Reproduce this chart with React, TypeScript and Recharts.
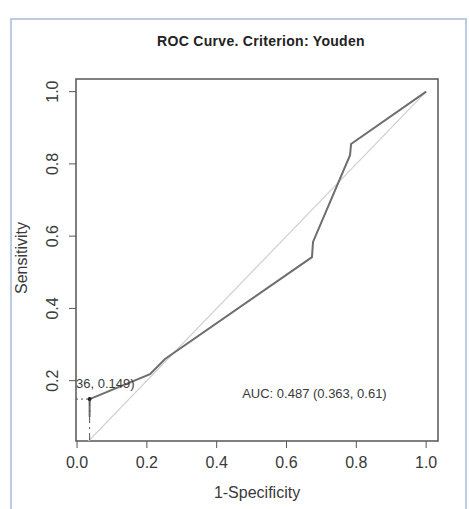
import React from 'react';
import {
  LineChart,
  Line,
  XAxis,
  YAxis,
  ReferenceArea,
  ReferenceLine,
  ReferenceDot,
  Customized
} from 'recharts';

// ROC curve points (1 - specificity, sensitivity)
const fpr = [0.036, 0.036, 0.209, 0.252, 0.673, 0.676, 0.782, 0.785, 1.0];
const tpr = [0.1, 0.149, 0.218, 0.26, 0.542, 0.584, 0.824, 0.855, 1.0];

// chance diagonal
const diagX = [0, 1];
const diagY = [0, 1];

// Youden threshold point
const threshX = [0.036];
const threshY = [0.149];

const xTicks = [0, 0.2, 0.4, 0.6, 0.8, 1.0];
const yTicks = [0.2, 0.4, 0.6, 0.8, 1.0];

const XDOM: [number, number] = [-0.003, 1.034];
const YDOM: [number, number] = [0.033, 1.035];

const curveData = fpr.map((x, i) => ({ fpr: x, tpr: tpr[i] }));
const diagData = diagX.map((x, i) => ({ fpr: x, tpr: diagY[i] }));

const FONT = '"Liberation Sans", Arial, Helvetica, sans-serif';
const INK = '#3a3a3a';

const YTick = (props: any) => {
  const { x, y, payload } = props;
  return (
    <text
      x={x}
      y={y}
      transform={`rotate(-90, ${x}, ${y})`}
      textAnchor="middle"
      fontSize={16}
      fill={INK}
      fontFamily={FONT}
    >
      {Number(payload.value).toFixed(1)}
    </text>
  );
};

const Titles = () => (
  <g fontFamily={FONT}>
    <defs>
      <clipPath id="plotClip">
        <rect x={76} y={79} width={362} height={362} />
      </clipPath>
    </defs>
    <text x={261} y={46} textAnchor="middle" fontSize={14} fontWeight="bold" letterSpacing={0.3} fill="#222">
      ROC Curve. Criterion: Youden
    </text>
    <text x={257} y={498} textAnchor="middle" fontSize={16} fill={INK}>
      1-Specificity
    </text>
    <text x={27} y={258} transform="rotate(-90, 27, 258)" textAnchor="middle" fontSize={16} fill={INK}>
      Sensitivity
    </text>
  </g>
);

const ThreshLabel = (props: any) => {
  const vb = props.viewBox || {};
  const cx = vb.x + (vb.width || 0) / 2;
  const cy = vb.y + (vb.height || 0) / 2;
  return (
    <g clipPath="url(#plotClip)">
      <text x={cx + 45} y={cy - 11} textAnchor="end" fontSize={13} fill={INK} fontFamily={FONT}>
        ({threshX[0].toFixed(3)}, {threshY[0].toFixed(3)})
      </text>
    </g>
  );
};

const AucLabel = (props: any) => {
  const vb = props.viewBox || {};
  const cx = vb.x + (vb.width || 0) / 2;
  const cy = vb.y + (vb.height || 0) / 2;
  return (
    <text x={cx} y={cy + 4.6} textAnchor="middle" fontSize={13} fill={INK} fontFamily={FONT}>
      AUC: 0.487 (0.363, 0.61)
    </text>
  );
};

export default function App() {
  return (
    <div style={{ position: 'absolute', left: 0, top: 0, width: 469, height: 509, overflow: 'hidden', background: '#fff' }}>
      <div
        style={{
          position: 'absolute',
          left: 10,
          top: 18,
          width: 457,
          height: 520,
          border: '2px solid #bccbe1',
          boxSizing: 'border-box'
        }}
      />
      <div style={{ position: 'absolute', left: 0, top: 0 }}>
        <LineChart width={469} height={509} margin={{ top: 79, right: 31, bottom: 28, left: 16 }}>
          <XAxis
            type="number"
            dataKey="fpr"
            domain={XDOM}
            allowDataOverflow
            ticks={xTicks}
            tickFormatter={(v: number) => v.toFixed(1)}
            axisLine={false}
            tickLine={{ stroke: '#555' }}
            tickSize={7}
            tickMargin={9}
            height={40}
            tick={{ fontSize: 16, fill: INK, fontFamily: FONT }}
          />
          <YAxis
            type="number"
            dataKey="tpr"
            domain={YDOM}
            allowDataOverflow
            ticks={yTicks}
            axisLine={false}
            tickLine={{ stroke: '#555' }}
            tickSize={7}
            tickMargin={11}
            width={60}
            tick={<YTick />}
          />
          <ReferenceArea
            x1={XDOM[0]}
            x2={XDOM[1]}
            y1={YDOM[0]}
            y2={YDOM[1]}
            fill="none"
            stroke="#555"
            strokeWidth={1.5}
            ifOverflow="visible"
          />
          <Line
            data={diagData}
            dataKey="tpr"
            type="linear"
            stroke="#cfcfcf"
            strokeWidth={1.2}
            dot={false}
            isAnimationActive={false}
          />
          <Line
            data={curveData}
            dataKey="tpr"
            type="linear"
            stroke="#6e6e6e"
            strokeWidth={2}
            dot={false}
            isAnimationActive={false}
          />
          <ReferenceLine
            segment={[{ x: XDOM[0], y: threshY[0] }, { x: threshX[0], y: threshY[0] }]}
            stroke="#555"
            strokeDasharray="2 3"
            ifOverflow="visible"
          />
          <ReferenceLine
            segment={[{ x: threshX[0], y: threshY[0] }, { x: threshX[0], y: YDOM[0] }]}
            stroke="#555"
            strokeDasharray="7 4 2 4"
            ifOverflow="visible"
          />
          <ReferenceDot
            x={threshX[0]}
            y={threshY[0]}
            r={2}
            fill="#222"
            stroke="none"
            label={<ThreshLabel />}
          />
          <ReferenceDot x={0.68} y={0.166} r={1} fill="none" stroke="none" label={<AucLabel />} />
          <Customized component={<Titles />} />
        </LineChart>
      </div>
    </div>
  );
}
